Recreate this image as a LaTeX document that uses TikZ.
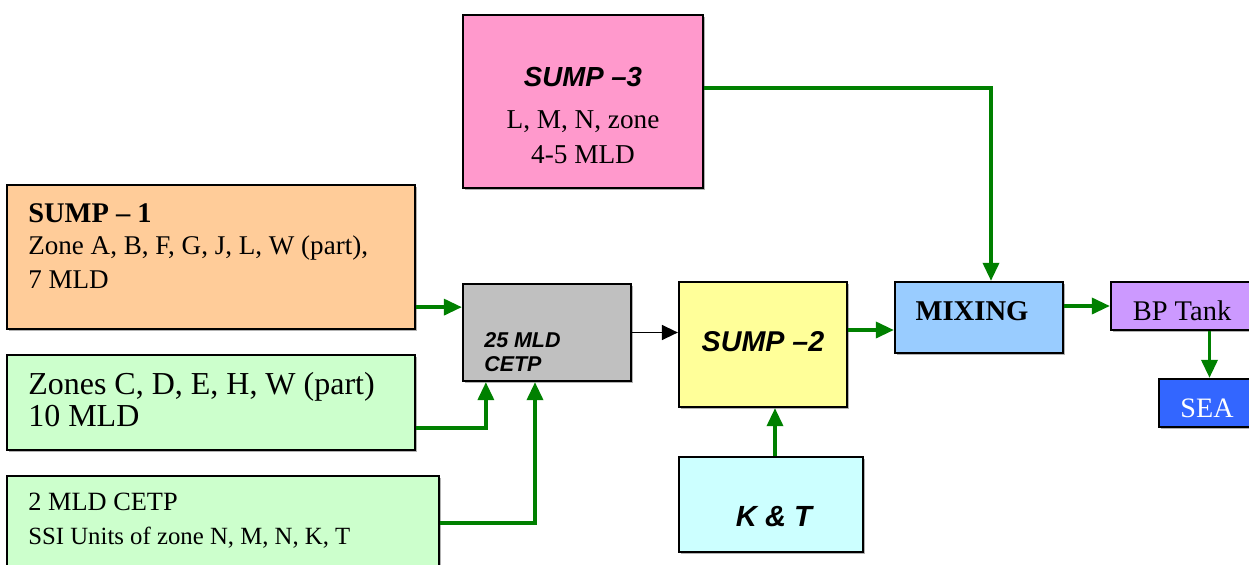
\documentclass[tikz,border=0pt]{standalone}
\usepackage{fontspec}
\setmainfont{Liberation Serif}
\setsansfont{Liberation Sans}
\usetikzlibrary{arrows.meta,shadows,calc}

\definecolor{pinkbox}{HTML}{FF99CC}
\definecolor{orangebox}{HTML}{FFCC99}
\definecolor{greenbox}{HTML}{CCFFCC}
\definecolor{greybox}{HTML}{C0C0C0}
\definecolor{yellowbox}{HTML}{FFFF99}
\definecolor{cyanbox}{HTML}{CCFFFF}
\definecolor{bluebox}{HTML}{99CCFF}
\definecolor{violetbox}{HTML}{CC99FF}
\definecolor{seabox}{HTML}{3366FF}
\definecolor{pipe}{HTML}{008000}

% size and line distance
\newcommand{\fsz}[2]{\fontsize{#1}{#2}\selectfont}

\tikzset{
  box/.style={draw=black, line width=1.3pt, inner sep=0pt,
    drop shadow={shadow xshift=0.04cm, shadow yshift=-0.04cm, fill=black!30, opacity=1}},
  flow/.style={draw=pipe, line width=2pt, -{Triangle[length=0.36cm, width=0.32cm]}},
  thin flow/.style={draw=black, line width=0.8pt, -{Triangle[length=0.32cm, width=0.3cm]}},
  txt/.style={inner sep=0pt, align=left, anchor=north west},
  heavy/.style={inner sep=0pt, font=\fsz{#1}{13.6}\sffamily\bfseries\itshape}
}

\begin{document}
\begin{tikzpicture}[x=0.02cm, y=-0.02cm]

\useasboundingbox (0,0) rectangle (1249,565);
\clip (0,0) rectangle (1249,565);

% boxes
\node[box, fill=pinkbox,   minimum width=4.8cm,  minimum height=3.46cm] (sumpthree) at (583,101.5) {};
\node[box, fill=orangebox, minimum width=8.16cm, minimum height=2.88cm] (sumpone)   at (211,257) {};
\node[box, fill=greenbox,  minimum width=8.16cm, minimum height=1.9cm]  (zones)     at (211,402.5) {};
\node[box, fill=greenbox,  minimum width=8.64cm, minimum height=1.88cm] (smallcetp) at (223,523) {};
\node[box, fill=greybox,   minimum width=3.36cm, minimum height=1.94cm] (cetp)      at (547,332.5) {};
\node[box, fill=yellowbox, minimum width=3.36cm, minimum height=2.5cm]  (sumptwo)   at (763,344.5) {};
\node[box, fill=cyanbox,   minimum width=3.68cm, minimum height=1.9cm]  (kandt)     at (771,504.5) {};
\node[box, fill=bluebox,   minimum width=3.36cm, minimum height=1.42cm] (mixing)    at (979,317.5) {};
\node[box, fill=violetbox, minimum width=2.98cm, minimum height=0.96cm] (bptank)    at (1185.5,306) {};
\node[box, fill=seabox,    minimum width=2.02cm, minimum height=0.96cm] (sea)       at (1209.5,403) {};

% texts
\node[inner sep=0pt, align=center, anchor=north, font=\fsz{15.5}{19.8}] (sumpthreetxt) at (583,67)
  {{\fsz{15.7}{19.8}\sffamily\bfseries\itshape SUMP \textendash3}\\[4pt]
   L, M, N, zone\\ 4-5 MLD};
\node[txt, font=\fsz{15.4}{19}] (sumponetxt) at (28,203)
  {{\fsz{16.2}{19}\bfseries SUMP \textendash\ 1}\\[-0.5pt]
   Zone A, B, F, G, J, L, W (part),\\[0.5pt] 7 MLD};
\node[txt, font=\fsz{18.2}{18.1}] (zonestxt) at (28,372)
  {Zones C, D, E, H, W (part)\\ 10 MLD};
\node[txt, font=\fsz{14.1}{19.3}] (smallcetptxt) at (28,493)
  {{\fsz{15}{19.3}2 MLD CETP}\\ SSI Units of zone N, M, N, K, T};
\node[txt, heavy=12.2] (cetptxt) at (484,332)
  {25 MLD\\ CETP};
\node[heavy=16.3] (sumptwotxt) at (763,342) {SUMP \textendash2};
\node[heavy=16.6] (kandttxt) at (774,517) {K \& T};
\node[inner sep=0pt, font=\fsz{16.3}{19}\bfseries] (mixingtxt) at (972,311) {MIXING};
\node[inner sep=0pt, font=\fsz{16.2}{19}] (bptanktxt) at (1182,311) {BP Tank};
\node[inner sep=0pt, text=white, font=\fsz{16}{19}] (seatxt) at (1207,408) {SEA};

% pipes
\coordinate (sumpout) at ([yshift=0.46cm]sumpone.south east);
\draw[flow] (sumpout) -- (sumpout -| cetp.west);
\coordinate (zonesout) at ([yshift=0.46cm]zones.south east);
\draw[flow] (zonesout) -| ([xshift=0.48cm]cetp.south west);
\draw[flow] (smallcetp.east) -| ([xshift=-0.24cm]cetp.south);
\draw[thin flow] (cetp.east) -- (cetp.east -| sumptwo.west);
\coordinate (sumptwoout) at ([yshift=0.29cm]sumptwo.east);
\draw[flow] (sumptwoout) -- (sumptwoout -| mixing.west);
\draw[flow] ([yshift=0.27cm]sumpthree.east) -| ([xshift=0.24cm]mixing.north);
\coordinate (kandtout) at ([xshift=0.08cm]kandt.north);
\draw[flow] (kandtout) -- (kandtout |- sumptwo.south);
\draw[flow] (mixing.east |- bptank.west) -- (bptank.west);
\draw[flow] (bptank.south -| sea.north) -- (sea.north);

\end{tikzpicture}
\end{document}
